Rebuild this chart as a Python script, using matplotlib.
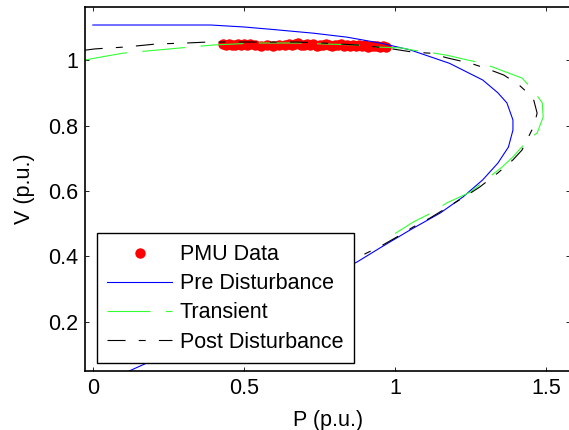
import matplotlib.pyplot as plt

plt.rcParams['font.family'] = ['Liberation Sans', 'DejaVu Sans']
plt.rcParams['lines.scale_dashes'] = False

# PMU measurements (P, V)
pmu_p = [0.43, 0.44, 0.45, 0.46, 0.47, 0.48, 0.49, 0.50, 0.51, 0.52,
         0.535, 0.555, 0.575, 0.595, 0.615, 0.635, 0.65, 0.66, 0.67, 0.68,
         0.69, 0.70, 0.71, 0.72, 0.73, 0.74, 0.75, 0.76, 0.77, 0.78,
         0.79, 0.80, 0.81, 0.82, 0.83, 0.84, 0.85, 0.86, 0.87, 0.88,
         0.89, 0.90, 0.91, 0.92, 0.93, 0.94, 0.95, 0.96, 0.97]
pmu_v = [1.048, 1.046, 1.049, 1.045, 1.047, 1.050, 1.046, 1.048, 1.045, 1.049,
         1.046, 1.044, 1.045, 1.044, 1.047, 1.045, 1.050, 1.046, 1.048, 1.051,
         1.045, 1.047, 1.049, 1.046, 1.050, 1.044, 1.047, 1.045, 1.049, 1.046,
         1.043, 1.047, 1.045, 1.048, 1.044, 1.046, 1.043, 1.047, 1.044, 1.046,
         1.042, 1.045, 1.041, 1.044, 1.042, 1.044, 1.041, 1.043, 1.041]

# Pre disturbance PV curve
pre_p = [0.0, 0.20, 0.39, 0.50, 0.60, 0.73, 0.84, 0.95, 1.05, 1.18, 1.29,
         1.34, 1.37, 1.39, 1.39, 1.375, 1.34, 1.29, 1.225, 1.15, 1.05,
         0.95, 0.874, 0.70, 0.50, 0.30, 0.18, 0.12]
pre_v = [1.107, 1.107, 1.107, 1.101, 1.093, 1.082, 1.070, 1.052, 1.031, 0.99, 0.939,
         0.90, 0.869, 0.817, 0.786, 0.734, 0.685, 0.634, 0.582, 0.533, 0.481,
         0.426, 0.383, 0.305, 0.22, 0.13, 0.075, 0.05]

# Transient PV curve
tr_p = [-0.027, 0.02, 0.10, 0.29, 0.40, 0.54, 0.68, 0.735, 0.874, 0.93, 1.02,
        1.06, 1.11, 1.17, 1.24, 1.29, 1.42, 1.457, 1.487, 1.49, 1.47, 1.44,
        1.39, 1.354, 1.30, 1.25, 1.17, 1.12, 1.06, 1.00]
tr_v = [1.0, 1.008, 1.021, 1.037, 1.046, 1.052, 1.052, 1.05, 1.046, 1.04, 1.037,
        1.03, 1.024, 1.015, 1.0, 0.99, 0.945, 0.908, 0.869, 0.826, 0.777, 0.756,
        0.704, 0.673, 0.634, 0.597, 0.563, 0.533, 0.505, 0.47]

# Post disturbance PV curve
post_p = [-0.027, 0.007, 0.11, 0.21, 0.31, 0.38, 0.49, 0.675, 0.76, 0.874, 0.97,
          1.06, 1.115, 1.175, 1.25, 1.30, 1.36, 1.41, 1.457, 1.47, 1.46, 1.42,
          1.39, 1.34, 1.28, 1.24, 1.17, 1.115, 1.06, 1.007, 0.95, 0.894]
post_v = [1.03, 1.034, 1.04, 1.049, 1.052, 1.055, 1.055, 1.055, 1.052, 1.046, 1.037,
          1.024, 1.021, 1.006, 0.99, 0.975, 0.954, 0.924, 0.884, 0.838, 0.80, 0.725,
          0.695, 0.655, 0.612, 0.588, 0.548, 0.517, 0.49, 0.46, 0.43, 0.405]

xticks = [0, 0.5, 1, 1.5]
xtick_labels = ['0', '0.5', '1', '1.5']
yticks = [0.2, 0.4, 0.6, 0.8, 1.0]
ytick_labels = ['0.2', '0.4', '0.6', '0.8', '1']

fs = 15.5

fig = plt.figure(figsize=(5.69, 4.30), dpi=100)
ax = fig.add_axes([0.1494, 0.1372, 0.853, 0.8465])

ax.plot(pmu_p, pmu_v, 'o', color='#ff0000', markersize=7.5, markeredgewidth=0,
        label='PMU Data')
ax.plot(pre_p, pre_v, '-', color='#0000ff', lw=0.8, label='Pre Disturbance')
ax.plot(tr_p, tr_v, color='#33ff33', lw=0.8, linestyle=(0, (31, 11)),
        label='Transient')
ax.plot(post_p, post_v, color='black', lw=0.8, linestyle=(0, (13, 9.5, 5, 9.5)),
        label='Post Disturbance')

ax.set_xlim(-0.026, 1.58)
ax.set_ylim(0.05, 1.162)
ax.set_xticks(xticks)
ax.set_xticklabels(xtick_labels)
ax.set_yticks(yticks)
ax.set_yticklabels(ytick_labels)
ax.tick_params(direction='in', top=True, right=True, length=3, width=0.6,
               labelsize=fs, pad=5)
for s in ax.spines.values():
    s.set_linewidth(1.2)
# the right border falls just outside the image
ax.spines['right'].set_visible(False)

ax.set_xlabel('P (p.u.)', fontsize=fs, labelpad=8)
ax.set_ylabel('V (p.u.)', fontsize=fs, labelpad=9)

leg = ax.legend(loc='lower left', bbox_to_anchor=(0.024, 0.021), fontsize=fs,
                fancybox=False, framealpha=1, edgecolor='black',
                handlelength=3.0, handletextpad=0.35, labelspacing=0.38,
                borderpad=0.5, borderaxespad=0)
leg.get_frame().set_linewidth(1.0)

fig.savefig('out.png', dpi=100)
